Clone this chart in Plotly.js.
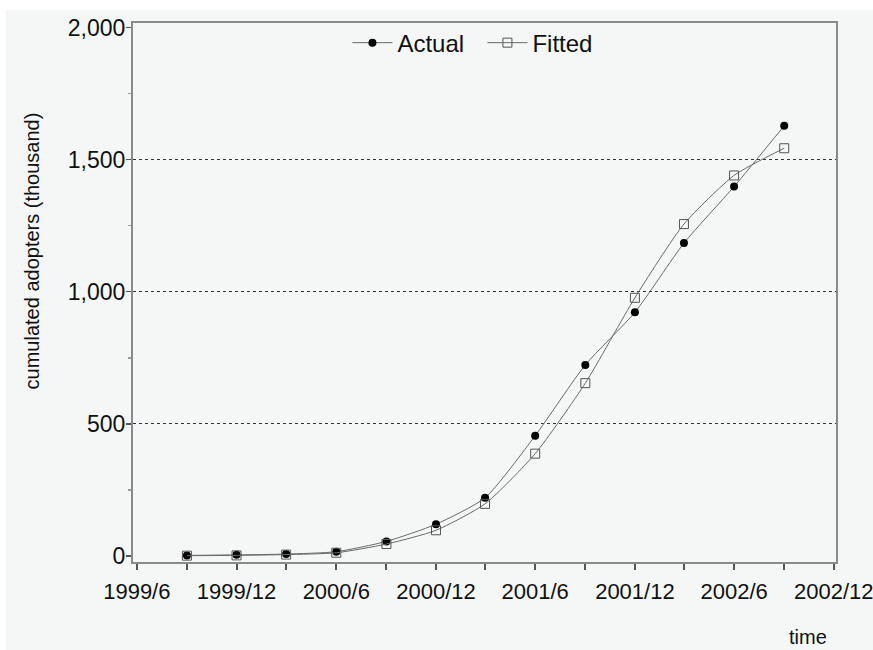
<!DOCTYPE html>
<html>
<head>
<meta charset="utf-8">
<script src="https://cdn.plot.ly/plotly-3.0.1.min.js"></script>
<style>
  html, body { margin: 0; padding: 0; background: #ffffff; overflow: hidden; }
  #chart { position: absolute; left: 6px; top: 10px; width: 867px; height: 640px; }
</style>
</head>
<body>
<div id="chart"></div>
<script>
// Quarterly observation dates
const periods = ["1999-09-01", "1999-12-01", "2000-03-01", "2000-06-01", "2000-09-01",
                 "2000-12-01", "2001-03-01", "2001-06-01", "2001-09-01", "2001-12-01",
                 "2002-03-01", "2002-06-01", "2002-09-01"];

// Cumulated adopters (thousand)
const actual = [2, 4, 7, 16, 55, 120, 220, 455, 723, 922, 1184, 1398, 1628];
const fitted = [1, 2, 5, 12, 45, 97, 197, 387, 654, 977, 1256, 1440, 1543];

// Axis ticks: every quarter, labelled every half-year
const tickDates = ["1999-06-01", "1999-09-01", "1999-12-01", "2000-03-01", "2000-06-01",
                   "2000-09-01", "2000-12-01", "2001-03-01", "2001-06-01", "2001-09-01",
                   "2001-12-01", "2002-03-01", "2002-06-01", "2002-09-01", "2002-12-01"];
const tickLabels = ["1999/6", "", "1999/12", "", "2000/6", "", "2000/12", "", "2001/6", "",
                    "2001/12", "", "2002/6", "", "2002/12"];
const yTicks = [0, 500, 1000, 1500, 2000];
const yTickLabels = ["0", "500", "1,000", "1,500", "2,000"];
const gridLevels = [500, 1000, 1500];

const FONT = "Liberation Sans, Arial, sans-serif";
const BG = "#f4f7f6";

const traces = [
  {
    x: periods, y: actual, name: "Actual", type: "scatter", mode: "lines+markers",
    line: { color: "#6a6a6a", width: 1, shape: "spline", smoothing: 0.6 },
    marker: { symbol: "circle", size: 8, color: "#000000" }
  },
  {
    x: periods, y: fitted, name: "Fitted", type: "scatter", mode: "lines+markers",
    line: { color: "#6a6a6a", width: 1, shape: "spline", smoothing: 0.6 },
    marker: { symbol: "square-open", size: 9, color: "#555555", line: { width: 1 } }
  },
  // carrier for the dotted reference lines
  { x: [periods[0]], y: [0], yaxis: "y2", type: "scatter", mode: "markers",
    marker: { opacity: 0 }, showlegend: false, hoverinfo: "skip" }
];

const layout = {
  width: 867, height: 640,
  paper_bgcolor: BG, plot_bgcolor: BG,
  margin: { l: 127, r: 37, t: 12, b: 88 },
  font: { family: FONT, size: 23, color: "#111111" },
  showlegend: true,
  legend: {
    orientation: "h", x: 0.305, xanchor: "left", y: 0.961, yanchor: "middle",
    bgcolor: "rgba(0,0,0,0)", font: { size: 24, family: FONT, color: "#111" },
    itemwidth: 40, tracegroupgap: 0, entrywidth: 80, entrywidthmode: "pixels"
  },
  xaxis: {
    type: "date", range: ["1999-05-25", "2002-12-05"],
    tickmode: "array", tickvals: tickDates, ticktext: tickLabels,
    ticks: "outside", ticklen: 6, tickwidth: 2, tickcolor: "#555",
    ticklabelstandoff: 3, ticklabeloverflow: "allow",
    showline: true, linecolor: "#8a8a8a", linewidth: 2, mirror: true,
    showgrid: false, zeroline: false,
    tickfont: { size: 22, family: FONT, color: "#111" }
  },
  yaxis: {
    range: [-23, 2017],
    tickmode: "array", tickvals: yTicks, ticktext: yTickLabels,
    ticks: "outside", ticklen: 5, tickwidth: 1.5, tickcolor: "#555",
    ticklabelstandoff: -4,
    minor: { tickmode: "array", tickvals: [250, 750, 1250, 1750], ticks: "outside",
             ticklen: 3, tickcolor: "#999", showgrid: false },
    showline: true, linecolor: "#8a8a8a", linewidth: 2, mirror: true,
    showgrid: false, zeroline: false,
    tickfont: { size: 23, family: FONT, color: "#111" }
  },
  yaxis2: {
    overlaying: "y", matches: "y", side: "left",
    tickmode: "array", tickvals: gridLevels, showticklabels: false, ticks: "",
    showgrid: true, gridcolor: "#333333", gridwidth: 1, griddash: "dot",
    showline: false, zeroline: false
  },
  annotations: [
    { text: "cumulated adopters (thousand)", xref: "paper", yref: "paper",
      x: -0.1437, y: 0.578, xanchor: "center", yanchor: "middle", textangle: -90,
      showarrow: false, font: { size: 20, family: FONT, color: "#111" } },
    { text: "time", xref: "paper", yref: "paper", x: 0.96, y: -0.139,
      xanchor: "center", yanchor: "middle", showarrow: false,
      font: { size: 20, family: FONT, color: "#111" } }
  ]
};

Plotly.newPlot("chart", traces, layout, { displayModeBar: false, staticPlot: true });
</script>
</body>
</html>
